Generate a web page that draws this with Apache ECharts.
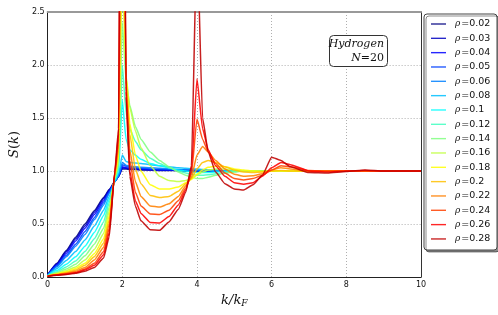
<!DOCTYPE html>
<html><head><meta charset="utf-8">
<script src="https://cdn.jsdelivr.net/npm/echarts@6/dist/echarts.min.js"></script>
<style>html,body{margin:0;padding:0;background:#fff}#c{width:498px;height:315px}</style>
</head><body><div id="c"></div>
<script>
const K = [0, 0.25, 0.5, 0.75, 1.0, 1.25, 1.5, 1.65, 1.8, 1.9,
  2.0, 2.1, 2.2, 2.35, 2.5, 2.75, 3.0, 3.25, 3.5, 3.7,
  3.85, 4.0, 4.15, 4.3, 4.5, 4.75, 5.0, 5.25, 5.5, 5.75,
  6.0, 6.25, 6.5, 7.0, 7.5, 8.0, 8.5, 9.0, 9.5, 10];
const RHO = ['0.02','0.03','0.04','0.05','0.06','0.08','0.1','0.12','0.14','0.16','0.18','0.2','0.22','0.24','0.26','0.28'];
const COLORS = ['#000080','#0000bf','#0000ff','#0040ff','#0080ff','#00bfff','#00ffff','#40ffbf','#80ff80','#bfff40','#ffff00','#ffbf00','#ff8000','#ff4000','#ff0000','#bf0000'];
const XTICKS = [0, 2, 4, 6, 8, 10];
const YTICKS = [0.0, 0.5, 1.0, 1.5, 2.0, 2.5];

const S002 = [0.02,0.13,0.25,0.375,0.50,0.625,0.75,0.825,0.90,0.95, 1.02,1.02,1.015,1.015,1.01,1.01,1.005,1.005,1.005,1.0, 1.0,1.0,1.0,1.0,1.0,1.0,1.0,1.0,1.0,1.0, 1.0,1.0,1.0,1.0,1.0,1.0,1.0,1.0,1.0,1.0];
const S003 = [0.02,0.125,0.24,0.36,0.48,0.61,0.74,0.82,0.90,0.95, 1.03,1.025,1.02,1.02,1.015,1.01,1.01,1.01,1.005,1.005, 1.005,1.0,1.0,1.0,1.0,1.0,1.0,1.0,1.0,1.0, 1.0,1.0,1.0,1.0,1.0,1.0,1.0,1.0,1.0,1.0];
const S004 = [0.02,0.115,0.225,0.34,0.46,0.59,0.72,0.81,0.90,0.95, 1.04,1.03,1.025,1.02,1.02,1.015,1.01,1.01,1.01,1.005, 1.005,1.005,1.0,1.0,1.0,1.0,1.0,1.0,1.0,1.0, 1.0,1.0,1.0,1.0,1.0,1.0,1.0,1.0,1.0,1.0];
const S005 = [0.018,0.105,0.205,0.31,0.43,0.56,0.70,0.80,0.90,0.95, 1.06,1.045,1.035,1.03,1.025,1.02,1.015,1.015,1.01,1.01, 1.01,1.005,1.005,1.005,1.0,1.0,1.0,1.0,1.0,1.0, 1.0,1.0,1.0,1.0,1.0,1.0,1.0,1.0,1.0,1.0];
const S006 = [0.016,0.097,0.19,0.29,0.40,0.54,0.68,0.79,0.90,0.955, 1.08,1.055,1.045,1.04,1.035,1.03,1.025,1.02,1.015,1.01, 1.01,1.01,1.005,1.005,1.005,1.0,1.0,1.0,1.0,1.0, 1.0,1.0,1.0,1.0,1.0,1.0,1.0,1.0,1.0,1.0];
const S008 = [0.014,0.08,0.155,0.24,0.35,0.48,0.63,0.76,0.90,0.97, 1.15,1.09,1.08,1.075,1.07,1.06,1.05,1.04,1.03,1.025, 1.02,1.02,1.015,1.01,1.01,1.005,1.0,1.0,1.0,1.0, 1.0,1.0,1.0,1.0,1.0,1.0,1.0,1.0,1.0,1.0];
const S010 = [0.012,0.063,0.12,0.19,0.29,0.42,0.58,0.73,0.91,1.0, 1.67,1.3,1.2,1.15,1.11,1.07,1.05,1.03,1.01,1.0, 0.99,0.985,0.985,0.985,0.99,0.995,1.0,1.0,1.0,1.0, 1.0,1.0,1.0,1.0,1.0,1.0,1.0,1.0,1.0,1.0];
const S012 = [0.01,0.05,0.095,0.15,0.24,0.36,0.52,0.70,0.92,1.03, 2.0,1.55,1.4,1.28,1.2,1.12,1.07,1.03,1.0,0.98, 0.97,0.96,0.96,0.965,0.975,0.985,0.995,1.0,1.0,1.0, 1.0,1.0,1.0,1.0,1.0,1.0,1.0,1.0,1.0,1.0];
const S014 = [0.01,0.04,0.075,0.12,0.20,0.31,0.46,0.66,0.93,1.07, 2.4,1.85,1.62,1.42,1.3,1.18,1.1,1.04,0.99,0.96, 0.94,0.93,0.93,0.94,0.96,0.98,0.99,1.0,1.0,1.0, 1.0,1.0,1.0,1.0,1.0,1.0,1.0,1.0,1.0,1.0];
const S016 = [0.01,0.034,0.06,0.095,0.16,0.26,0.41,0.62,0.94,1.1, 2.9,1.9,1.6,1.38,1.22,1.05,0.95,0.91,0.9,0.91, 0.93,0.96,0.99,1.01,1.02,1.02,1.01,1.0,1.0,1.0, 1.0,1.0,1.0,1.0,1.0,1.0,1.0,1.0,1.0,1.0];
const S018 = [0.01,0.029,0.05,0.08,0.13,0.22,0.36,0.58,0.95,1.15, 3.4,1.9,1.45,1.15,1.0,0.87,0.83,0.83,0.85,0.89, 0.92,0.97,1.01,1.035,1.045,1.04,1.02,1.01,1.0,0.995, 1.0,1.0,1.0,1.0,1.0,1.0,1.0,1.0,1.0,1.0];
const S020 = [0.01,0.025,0.042,0.065,0.11,0.19,0.32,0.54,0.96,1.2, 4.0,1.9,1.35,1.02,0.88,0.77,0.75,0.76,0.81,0.88, 0.93,1.02,1.08,1.1,1.08,1.04,1.01,0.99,0.985,0.99, 1.0,1.005,1.0,1.0,1.0,1.0,1.0,1.0,1.0,1.0];
const S022 = [0.01,0.022,0.036,0.055,0.09,0.16,0.28,0.50,0.97,1.25, 5.0,1.85,1.2,0.9,0.76,0.67,0.66,0.69,0.76,0.86, 0.94,1.15,1.23,1.18,1.1,1.02,0.97,0.95,0.955,0.975, 1.01,1.03,1.02,1.0,1.0,1.0,1.0,1.0,1.0,1.0];
const S024 = [0.008,0.02,0.03,0.045,0.075,0.13,0.24,0.46,0.98,1.3, 6.0,1.8,1.1,0.8,0.67,0.595,0.59,0.63,0.72,0.84, 0.97,1.49,1.3,1.18,1.07,0.98,0.93,0.915,0.93,0.96, 1.01,1.05,1.04,1.005,1.0,1.0,1.0,1.0,1.0,1.0];
const S026 = [0.008,0.018,0.027,0.04,0.065,0.11,0.21,0.42,0.99,1.35, 7.0,1.75,1.0,0.72,0.6,0.515,0.51,0.57,0.68,0.82, 1.0,1.87,1.4,1.2,1.05,0.95,0.89,0.875,0.89,0.95, 1.03,1.08,1.06,1.0,0.99,1.0,1.005,1.0,1.0,1.0];
const S028 = [0.008,0.016,0.024,0.035,0.055,0.09,0.18,0.38,1.0,1.4, 8.0,1.7,0.95,0.67,0.53,0.445,0.44,0.52,0.64,0.80, 1.05,3.2,1.5,1.18,0.99,0.88,0.83,0.82,0.87,0.96, 1.13,1.1,1.04,0.985,0.98,0.995,1.01,1.0,1.0,1.0];

const ALL = [S002,S003,S004,S005,S006,S008,S010,S012,S014,S016,S018,S020,S022,S024,S026,S028];

const chart = echarts.init(document.getElementById('c'), null, {renderer:'canvas'});
const series = ALL.map((vals, i) => ({
  name: 'ρ=' + RHO[i],
  type: 'line',
  data: K.map((k, j) => [k, vals[j]]),
  symbol: 'none',
  clip: true,
  smooth: 0.15,
  smoothMonotone: 'x',
  lineStyle: {width: 1.5, color: COLORS[i], opacity: 0.88},
  itemStyle: {color: COLORS[i], opacity: 0.85},
  emphasis: {disabled: true},
  animation: false
}));

const gridLine = {show: true, lineStyle: {color: '#9a9a9a', width: 0.8, type: [1, 2]}};
chart.setOption({
  animation: false,
  grid: {left: 41, right: 77, top: 12, bottom: 38, show: false},
  xAxis: [{
    type: 'value', min: 0, max: 10, interval: 2,
    axisLine: {show: true, onZero: false, lineStyle: {color: '#222', width: 1}},
    axisTick: {show: false},
    splitLine: gridLine,
    axisLabel: {color: '#111', fontSize: 8, fontFamily: 'DejaVu Sans', margin: 4,
      formatter: v => XTICKS.includes(v) ? String(v) : ''},
    name: '{i|k/k}{s|F}', nameLocation: 'middle', nameGap: 12,
    nameTextStyle: {rich: {
      i: {fontFamily: 'DejaVu Serif', fontStyle: 'italic', fontSize: 13, color: '#111'},
      s: {fontFamily: 'DejaVu Serif', fontStyle: 'italic', fontSize: 9, color: '#111', padding: [7, 0, 0, 0]}
    }}
  }, {
    type: 'value', min: 0, max: 10, interval: 2, position: 'top',
    axisLine: {show: true, onZero: false, lineStyle: {color: '#999', width: 2}},
    axisTick: {show: false}, axisLabel: {show: false}, splitLine: {show: false}
  }],
  yAxis: [{
    type: 'value', min: 0, max: 2.5, interval: 0.5,
    axisLine: {show: true, onZero: false, lineStyle: {color: '#222', width: 1}},
    axisTick: {show: false},
    splitLine: gridLine,
    axisLabel: {color: '#111', fontSize: 8, fontFamily: 'DejaVu Sans', margin: 3,
      formatter: v => YTICKS.includes(v) ? v.toFixed(1) : ''},
    name: '{i|S}{n|(}{i|k}{n|)}', nameLocation: 'middle', nameGap: 20, nameRotate: 90,
    nameTextStyle: {rich: {
      i: {fontFamily: 'DejaVu Serif', fontStyle: 'italic', fontSize: 13, color: '#111'},
      n: {fontFamily: 'DejaVu Serif', fontSize: 13, color: '#111'}
    }}
  }, {
    type: 'value', min: 0, max: 2.5, interval: 0.5, position: 'right',
    axisLine: {show: true, onZero: false, lineStyle: {color: '#333', width: 1}},
    axisTick: {show: false}, axisLabel: {show: false}, splitLine: {show: false}
  }],
  legend: {
    orient: 'vertical', left: 431, top: 19, padding: 0,
    itemWidth: 15, itemHeight: 10, itemGap: 4.33,
    icon: 'path://M0,0 M0,4.3 L15,4.3 L15,5.7 L0,5.7 Z M15,10',
    selectedMode: false,
    data: RHO.map(r => 'ρ=' + r),
    formatter: n => '{r|ρ}{t|=' + n.split('=')[1] + '}',
    textStyle: {rich: {
      r: {fontFamily: 'DejaVu Serif', fontStyle: 'italic', fontSize: 9, color: '#111', padding: [0, 1, 0, 4], lineHeight: 10},
      t: {fontFamily: 'DejaVu Sans', fontSize: 9.5, color: '#111', lineHeight: 10}
    }}
  },
  graphic: [
    {type: 'rect', z: 1, shape: {x: 424, y: 14, width: 73, height: 236, r: 3},
     style: {fill: '#fff', stroke: '#444', lineWidth: 1, shadowColor: 'rgba(0,0,0,0.45)', shadowOffsetX: 2, shadowOffsetY: 2, shadowBlur: 0}},
    {type: 'rect', z: 50, shape: {x: 329.5, y: 35.5, width: 58, height: 31, r: 4},
     style: {fill: '#fff', stroke: '#333', lineWidth: 1}},
    {type: 'text', z: 51, style: {x: 384, y: 44, text: 'Hydrogen', align: 'right', verticalAlign: 'middle',
      font: 'italic 11px "DejaVu Serif"', fill: '#111'}},
    {type: 'text', z: 51, style: {x: 384, y: 58, text: '{i|N}{n|=20}', align: 'right', verticalAlign: 'middle',
      rich: {i: {font: 'italic 11px "DejaVu Serif"', fill: '#111'}, n: {font: '11px "DejaVu Serif"', fill: '#111'}}}}
  ],
  series: series
});
</script></body></html>
